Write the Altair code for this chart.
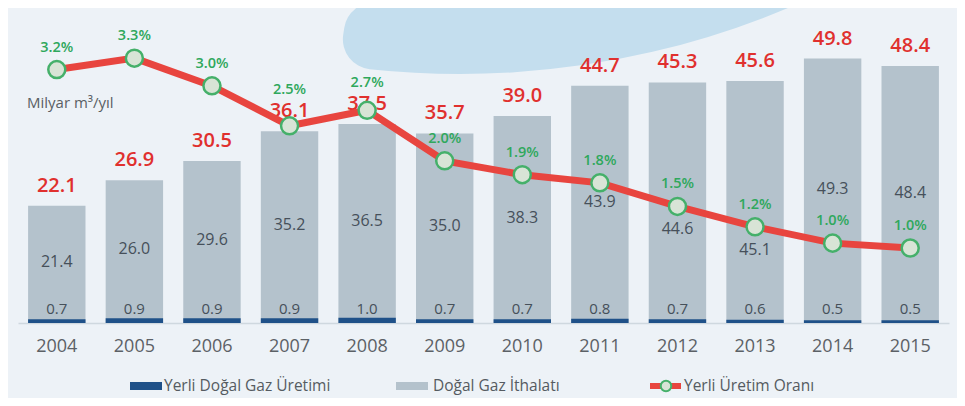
import altair as alt
import pandas as pd

years = ["2004", "2005", "2006", "2007", "2008", "2009", "2010", "2011", "2012", "2013", "2014", "2015"]
total = [22.1, 26.9, 30.5, 36.1, 37.5, 35.7, 39.0, 44.7, 45.3, 45.6, 49.8, 48.4]
imports = [21.4, 26.0, 29.6, 35.2, 36.5, 35.0, 38.3, 43.9, 44.6, 45.1, 49.3, 48.4]
domestic = [0.7, 0.9, 0.9, 0.9, 1.0, 0.7, 0.7, 0.8, 0.7, 0.6, 0.5, 0.5]
rate = [3.16, 3.30, 2.96, 2.47, 2.66, 2.04, 1.87, 1.77, 1.48, 1.23, 1.03, 0.97]

legend_labels = ["Yerli Doğal Gaz Üretimi", "Doğal Gaz İthalatı", "Yerli Üretim Oranı"]
unit_label = "Milyar m³/yıl"

df = pd.DataFrame({"year": years, "total": total, "imports": imports,
                   "domestic": domestic, "rate": rate})

W, H = 931, 292
FONT = "Open Sans"
YEAR_FONT = "Liberation Sans Narrow, Open Sans, sans-serif"
GRAY_BAR = "#b4c2cc"
BLUE = "#1f5189"
RED = "#e0302e"
LINE_RED = "#e8453f"
GREEN = "#2fa85c"
TEXT_GRAY = "#46505a"

yscale = alt.Scale(domain=[0, 55], nice=False, zero=True)
xenc = alt.X("year:O", scale=alt.Scale(paddingInner=0.26, paddingOuter=0.13),
             axis=alt.Axis(title=None, ticks=False, domain=True, domainColor="#cfd8df",
                           domainWidth=1.5, labelAngle=0, labelPadding=14,
                           labelFont=YEAR_FONT, labelFontSize=18, labelColor="#5c6166"))

base = alt.Chart(df).transform_calculate(
    ru="(datum.rate - 0.05) * 15.35",
    mid="(datum.domestic + datum.total) / 2",
    zero="0",
).transform_calculate(
    imp_u="(datum.mid > datum.ru - 3 && datum.mid < datum.ru + 7) ? datum.ru - 4.3 : datum.mid",
    lab="datum.ru + 4.14",
    tl="datum.total + 3.77",
    rate_txt="format(datum.rate, '.1f') + '%'",
).transform_calculate(
    rl="abs(datum.lab - datum.tl) < 3.4 ? datum.tl + 4.0 : datum.lab",
)

dummy = alt.Chart(pd.DataFrame({"k": [0]}))

swoosh = dummy.mark_arc(theta=2.54, theta2=3.285, innerRadius=781, outerRadius=848,
                        cornerRadius=30, color="#c4deee").encode(
    x=alt.value(442), y=alt.value(-805))

gray_bars = base.mark_bar(color=GRAY_BAR).encode(
    x=xenc, y=alt.Y("total:Q", scale=yscale, axis=None))
blue_bars = base.mark_bar(color=BLUE).encode(
    x=xenc, y=alt.Y("domestic:Q", scale=yscale, axis=None))

total_txt = base.mark_text(font=FONT, fontSize=20, fontWeight=600, color=RED,
                           baseline="middle").encode(
    x=xenc, y=alt.Y("tl:Q", scale=yscale, axis=None),
    text=alt.Text("total:Q", format=".1f"))

imp_txt = base.mark_text(font=FONT, fontSize=16, color=TEXT_GRAY, baseline="middle").encode(
    x=xenc, y=alt.Y("imp_u:Q", scale=yscale, axis=None),
    text=alt.Text("imports:Q", format=".1f"))

dom_txt = base.mark_text(font=FONT, fontSize=15, color=TEXT_GRAY, baseline="middle", dy=-14).encode(
    x=xenc, y=alt.Y("zero:Q", scale=yscale, axis=None),
    text=alt.Text("domestic:Q", format=".1f"))

line = base.mark_line(color=LINE_RED, strokeWidth=7).encode(
    x=xenc, y=alt.Y("ru:Q", scale=yscale, axis=None))
points = base.mark_point(shape="circle", size=290, filled=True, fill="#d8e4d6",
                         stroke="#45b06a", strokeWidth=2.5, opacity=1).encode(
    x=xenc, y=alt.Y("ru:Q", scale=yscale, axis=None))

rate_txt = base.mark_text(font=FONT, fontSize=14.5, fontWeight=600, color=GREEN,
                          baseline="middle").encode(
    x=xenc, y=alt.Y("rl:Q", scale=yscale, axis=None), text="rate_txt:N")

unit_txt = dummy.mark_text(font=FONT, fontSize=15, color="#5a5f64", align="left",
                           baseline="middle", text=unit_label).encode(
    x=alt.value(9), y=alt.value(72))

LY = 355
leg_blue = dummy.mark_rect(color=BLUE).encode(
    x=alt.value(112), x2=alt.value(144), y=alt.value(LY - 4), y2=alt.value(LY + 4))
leg_gray = dummy.mark_rect(color=GRAY_BAR).encode(
    x=alt.value(378), x2=alt.value(410), y=alt.value(LY - 4), y2=alt.value(LY + 4))
leg_line = dummy.mark_rule(color=LINE_RED, strokeWidth=6).encode(
    x=alt.value(632), x2=alt.value(663), y=alt.value(LY))
leg_pt = dummy.mark_point(shape="circle", size=110, filled=True, fill="#d8e4d6",
                          stroke="#45b06a", strokeWidth=2, opacity=1).encode(
    x=alt.value(648), y=alt.value(LY))
leg_t1 = dummy.mark_text(font=FONT, fontSize=15.5, color="#555b61", align="left",
                         baseline="middle", text=legend_labels[0]).encode(
    x=alt.value(146), y=alt.value(LY))
leg_t2 = dummy.mark_text(font=FONT, fontSize=15.5, color="#555b61", align="left",
                         baseline="middle", text=legend_labels[1]).encode(
    x=alt.value(415), y=alt.value(LY))
leg_t3 = dummy.mark_text(font=FONT, fontSize=15.5, color="#555b61", align="left",
                         baseline="middle", text=legend_labels[2]).encode(
    x=alt.value(666), y=alt.value(LY))

chart = alt.layer(
    swoosh, gray_bars, blue_bars, total_txt, imp_txt, dom_txt, line, points, rate_txt,
    unit_txt, leg_blue, leg_gray, leg_line, leg_pt, leg_t1, leg_t2, leg_t3,
).properties(
    width=W, height=H,
    padding={"left": 10, "top": 23, "right": 8, "bottom": 75},
    autosize=alt.AutoSizeParams(type="none"),
    background="#edf2f7",
).configure_view(strokeWidth=0)

chart.save("out.html", embed_options={"renderer": "svg", "actions": False})
